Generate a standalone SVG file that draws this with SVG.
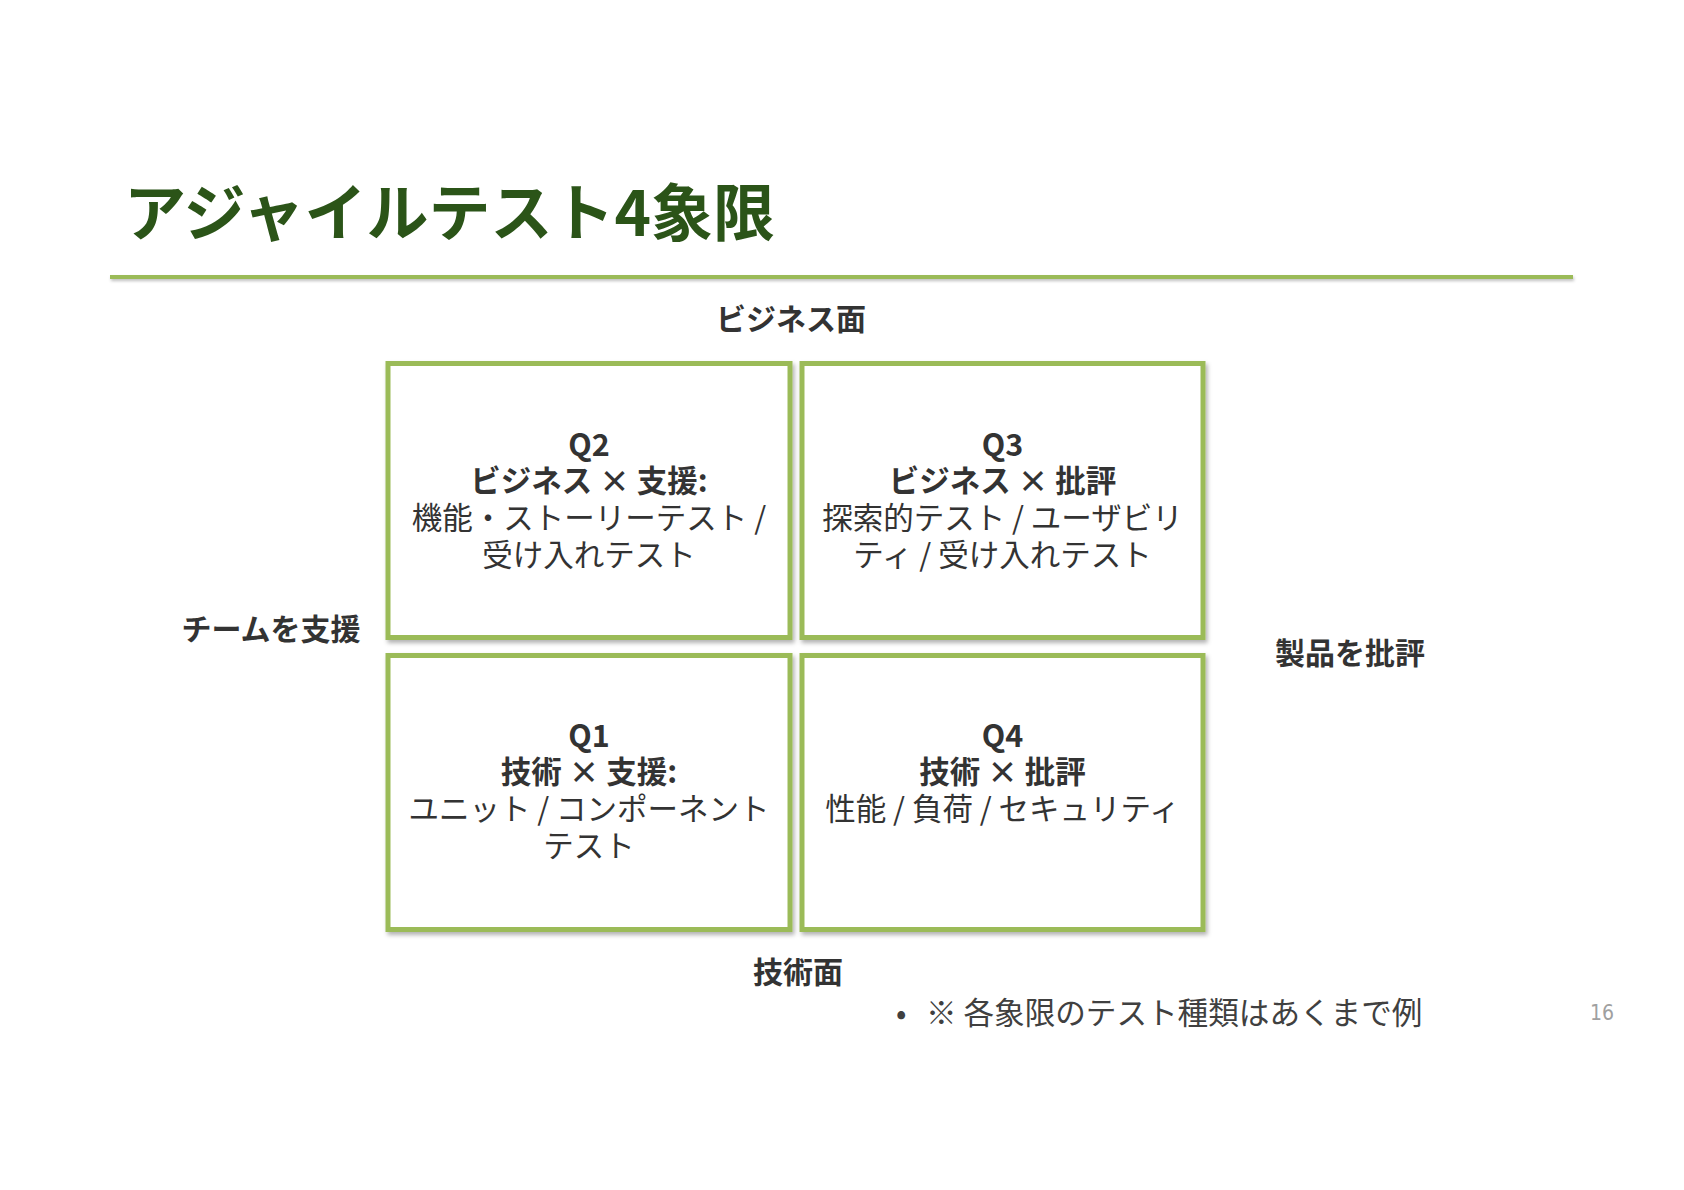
<svg xmlns="http://www.w3.org/2000/svg" width="1684" height="1190" viewBox="0 0 1684 1190">
<defs>
<style>
.title{font-family:"Noto Sans CJK JP","Noto Sans",sans-serif;font-weight:700;font-size:62px;fill:#2B5418}
.axis{font-family:"Noto Sans CJK JP","Noto Sans",sans-serif;font-weight:700;font-size:30px;fill:#333333}
.qb{font-family:"Noto Sans CJK JP","Noto Sans",sans-serif;font-weight:700;font-size:30.5px;fill:#333333;text-anchor:middle}
.qr{font-family:"Noto Sans CJK JP","Noto Sans",sans-serif;font-weight:400;font-size:30.5px;fill:#333333;text-anchor:middle}
.box{fill:#FFFFFF;stroke:#9BBB59;stroke-width:5;filter:url(#sh)}
.note{font-family:"Noto Sans CJK JP","Noto Sans",sans-serif;font-size:30.6px;fill:#404040}
.pg{font-family:"Liberation Sans Narrow","DejaVu Sans Condensed","Liberation Sans",sans-serif;font-size:21px;fill:#A0A0A0}
</style>
<filter id="sh" x="-5%" y="-5%" width="115%" height="115%">
<feDropShadow dx="2" dy="3" stdDeviation="2" flood-color="#000000" flood-opacity="0.3"/>
</filter>
<filter id="shl" filterUnits="userSpaceOnUse" x="100" y="265" width="1490" height="25">
<feDropShadow dx="1" dy="2" stdDeviation="1.5" flood-color="#000000" flood-opacity="0.25"/>
</filter>
</defs>
<rect width="1684" height="1190" fill="#FFFFFF"/>
<g id="title">
<text class="title" x="124" y="236">アジャイルテスト4象限</text>
<rect x="110" y="275" width="1463" height="4" fill="#9BBB59" filter="url(#shl)"/>
</g>
<g id="q2">
<rect class="box" x="388" y="363.5" width="402" height="274"/>
<text class="qb" x="589" y="456">Q2</text>
<text class="qb" x="589" y="492">ビジネス × 支援:</text>
<text class="qr" x="589" y="529">機能・ストーリーテスト /</text>
<text class="qr" x="589" y="566">受け入れテスト</text>
</g>
<g id="q3">
<rect class="box" x="802" y="363.5" width="401" height="274"/>
<text class="qb" x="1002.5" y="456">Q3</text>
<text class="qb" x="1002.5" y="492">ビジネス × 批評</text>
<text class="qr" x="1002.5" y="529">探索的テスト / ユーザビリ</text>
<text class="qr" x="1002.5" y="566">ティ / 受け入れテスト</text>
</g>
<g id="q1">
<rect class="box" x="388" y="655.5" width="402" height="274"/>
<text class="qb" x="589" y="747">Q1</text>
<text class="qb" x="589" y="783">技術 × 支援:</text>
<text class="qr" x="589" y="820">ユニット / コンポーネント</text>
<text class="qr" x="589" y="857">テスト</text>
</g>
<g id="q4">
<rect class="box" x="802" y="655.5" width="401" height="274"/>
<text class="qb" x="1002.5" y="747">Q4</text>
<text class="qb" x="1002.5" y="783">技術 × 批評</text>
<text class="qr" x="1002.5" y="820">性能 / 負荷 / セキュリティ</text>
</g>
<g id="labels">
<text class="axis" x="791" y="330" text-anchor="middle">ビジネス面</text>
<text class="axis" x="271" y="640" text-anchor="middle">チームを支援</text>
<text class="axis" x="1350" y="664" text-anchor="middle">製品を批評</text>
<text class="axis" x="798" y="983" text-anchor="middle">技術面</text>
</g>
<g id="connectors"></g>
<g id="note">
<text class="note" x="896" y="1024">•</text>
<text class="note" x="926" y="1024">※ 各象限のテスト種類はあくまで例</text>
<text class="pg" x="1590" y="1020">16</text>
</g>
</svg>
